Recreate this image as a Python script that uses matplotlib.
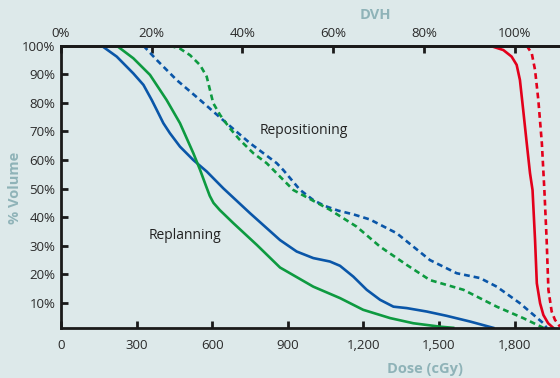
"""
DVH: Replanning vs. Repositioning
"""
import matplotlib
matplotlib.use("Agg")
import matplotlib.pyplot as plt
from matplotlib.ticker import FuncFormatter

plt.rcParams["font.family"] = ["Open Sans", "DejaVu Sans"]

# Werte (Dosis in cGy, Volumen in %)
blau_dosis = [161, 221, 287, 327, 360, 380, 406, 432, 472, 525, 578, 644, 750, 869,
              935, 1001, 1067, 1107, 1160, 1213, 1266, 1319, 1372, 1451, 1530, 1623, 1715]
blau_vol = [100, 96.2, 90.3, 86.3, 81, 77.5, 72.9, 69.4, 64.7, 60, 56, 50.1, 41.4, 32,
            28, 25.7, 24.5, 23, 19.2, 14.6, 11.1, 8.7, 8.2, 7, 5.5, 3.5, 1.3]

gruen_dosis = [221, 287, 353, 419, 472, 525, 552, 575, 590, 605, 630, 684, 777, 869,
               1001, 1107, 1199, 1306, 1398, 1504, 1556]
gruen_vol = [100, 95.6, 89.8, 81, 72.9, 62.4, 56.5, 51, 47.5, 45, 42.5, 37.9, 30.3, 22.4,
             15.7, 11.7, 7.6, 4.7, 2.9, 1.7, 1.3]

blau_rep_dosis = [327, 380, 459, 552, 657, 750, 856, 882, 948, 1001, 1045, 1100,
                  1160, 1226, 1332, 1464, 1570, 1663, 1729, 1821, 1914, 1927]
blau_rep_vol = [100, 95, 88, 81, 72.9, 65.9, 58.9, 56.5, 49.6, 46, 44, 42.3,
                41, 39.2, 34.4, 25, 20.4, 18.7, 15.7, 9.9, 2.9, 1.3]

gruen_rep_dosis = [432, 472, 512, 552, 578, 591, 604, 631, 670, 710, 763, 816, 869,
                   922, 1067, 1173, 1266, 1372, 1464, 1597, 1729, 1834, 1914]
gruen_rep_vol = [100, 99, 96.7, 93.2, 89.2, 84.5, 79.9, 75.8, 71.1, 67, 62.4, 58.9,
                 54.2, 49.5, 42.6, 36.7, 29.7, 23.3, 18, 14.6, 8.7, 4.7, 1.3]

rot_dosis = [1702, 1755, 1788, 1808, 1821, 1834, 1848, 1861, 1871, 1881, 1888,
             1901, 1914, 1933, 1953]
rot_vol = [100, 98.5, 96.2, 93.3, 88, 77.5, 65.9, 55.4, 49.5, 32, 16.9,
           9.9, 5.8, 2.9, 1.3]

rot_rep_dosis = [1848, 1868, 1881, 1894, 1908, 1918, 1927, 1934, 1947, 1960, 1980]
rot_rep_vol = [100, 97.3, 91.5, 81, 65.9, 49.5, 32, 14.6, 7, 4.1, 1.7]

x_ticks = [0, 300, 600, 900, 1200, 1500, 1800]
y_ticks = [10, 20, 30, 40, 50, 60, 70, 80, 90, 100]
dvh_ticks = [0, 20, 40, 60, 80, 100]

hintergrund = "#dde9ea"
blau = "#0a56a8"
gruen = "#0d9a40"
rot = "#e3001b"
label_farbe = "#8fb3b8"
achse = "#1a1a1a"

fig = plt.figure(figsize=(5.6, 3.78), dpi=100, facecolor=hintergrund)
ax = fig.add_axes([0.109, 0.132, 0.891, 0.747], facecolor=hintergrund)

lw = 1.9
strich = (0, (2.2, 1.5))
ax.plot(blau_dosis, blau_vol, color=blau, lw=lw)
ax.plot(gruen_dosis, gruen_vol, color=gruen, lw=lw)
ax.plot(blau_rep_dosis, blau_rep_vol, color=blau, lw=lw, linestyle=strich)
ax.plot(gruen_rep_dosis, gruen_rep_vol, color=gruen, lw=lw, linestyle=strich)
ax.plot(rot_dosis, rot_vol, color=rot, lw=lw)
ax.plot(rot_rep_dosis, rot_rep_vol, color=rot, lw=lw, linestyle=strich)

ax.set_xlim(0, 1980)
ax.set_ylim(1.2, 100)

# Achsen gestalten
ax.spines["right"].set_visible(False)
for seite in ["left", "bottom", "top"]:
    ax.spines[seite].set_linewidth(2)
    ax.spines[seite].set_color(achse)

ax.set_xticks(x_ticks)
ax.xaxis.set_major_formatter(FuncFormatter(lambda v, p: f"{int(v):,}"))
ax.set_yticks(y_ticks)
ax.yaxis.set_major_formatter(FuncFormatter(lambda v, p: f"{int(v)}%"))
ax.tick_params(axis="both", direction="in", length=5, width=2, color=achse,
               labelsize=9.5, labelcolor="#2a2a2a")
ax.tick_params(axis="x", pad=8)
ax.tick_params(axis="y", pad=4)

oben = ax.secondary_xaxis("top", functions=(lambda d: d / 18, lambda p: p * 18))
oben.set_xticks(dvh_ticks)
oben.xaxis.set_major_formatter(FuncFormatter(lambda v, p: f"{int(v)}%"))
oben.tick_params(direction="in", length=5, width=2, color=achse, labelsize=9.5,
                 labelcolor="#2a2a2a", pad=4)
oben.spines["top"].set_linewidth(2)
oben.spines["top"].set_color(achse)

# Beschriftung
ax.text(492, 33.6, "Replanning", fontsize=10, color="#222222", ha="center", va="center")
ax.text(962, 70.5, "Repositioning", fontsize=10, color="#222222", ha="center", va="center")
fig.text(375 / 560, 1 - 15 / 378, "DVH", fontsize=10.5, fontweight="bold",
         color=label_farbe, ha="center", va="center")
fig.text(425 / 560, 1 - 369 / 378, "Dose (cGy)", fontsize=10.5, fontweight="bold",
         color=label_farbe, ha="center", va="center")
fig.text(15 / 560, 1 - 188 / 378, "% Volume", fontsize=10.5, fontweight="bold",
         color=label_farbe, ha="center", va="center", rotation=90)

fig.savefig("out.png", dpi=100, facecolor=hintergrund)
